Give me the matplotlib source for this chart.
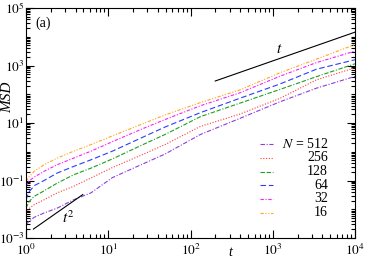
import numpy as np
import matplotlib
matplotlib.use("Agg")
import matplotlib.pyplot as plt
from matplotlib.ticker import FixedLocator, NullFormatter, FuncFormatter

plt.rcParams['font.family'] = ['Liberation Serif', 'DejaVu Serif']
plt.rcParams['mathtext.fontset'] = 'stix'

# log10(t) sample points
logt = [0.0, 0.036, 0.1, 0.22, 0.38, 0.58, 0.79, 1.05, 1.4, 1.69, 2.12, 2.60, 3.09, 3.53, 4.0]

# log10(MSD) for each system size
msd_512 = [-2.54, -2.42, -2.28, -2.13, -1.96, -1.67, -1.43, -0.9, -0.45, -0.08, 0.6, 1.16, 1.74, 2.21, 2.62]
msd_256 = [-2.13, -1.98, -1.84, -1.67, -1.43, -1.2, -0.91, -0.55, -0.12, 0.25, 0.88, 1.31, 1.86, 2.5, 2.92]
msd_128 = [-1.96, -1.74, -1.55, -1.36, -1.09, -0.80, -0.57, -0.25, 0.22, 0.6, 1.22, 1.69, 2.17, 2.61, 3.06]
msd_64 = [-1.67, -1.4, -1.18, -1.0, -0.74, -0.51, -0.28, 0.02, 0.48, 0.86, 1.36, 1.86, 2.36, 2.87, 3.2]
msd_32 = [-1.2, -1.02, -0.88, -0.68, -0.45, -0.22, 0.02, 0.35, 0.78, 1.12, 1.6, 2.05, 2.63, 3.10, 3.5]
msd_16 = [-1.03, -0.88, -0.68, -0.45, -0.22, 0.02, 0.25, 0.55, 0.95, 1.28, 1.71, 2.15, 2.75, 3.22, 3.73]

sizes = ["512", "256", "128", "64", "32", "16"]
series = [msd_512, msd_256, msd_128, msd_64, msd_32, msd_16]
colors = ["#8a3ee0", "#ff3a3a", "#1f9f1f", "#2a3cff", "#ff1aff", "#ffa820"]
dashes = [(4, 1.5, 1, 1.5), (1, 1.5), (4, 1.5, 4, 1.5, 1, 1.5), (5, 2.5),
          (3, 1.5, 1, 1.5), (3, 1.5, 1, 1.5, 1, 1.5)]

# guide lines: t^2 and t
t2_range = [1.23, 4.9]
t2_coef = 10 ** -2.87
t1_range = [200, 1e4]
t1_coef = 10 ** 0.16

fig = plt.figure(figsize=(3.66, 2.59), dpi=100)
ax = fig.add_axes([26 / 366, 1 - 238 / 259, 329 / 366, 230 / 259])

t = 10 ** np.array(logt)
handles = []
for lab, vals, col, ds in zip(sizes, series, colors, dashes):
    ln, = ax.plot(t, 10 ** np.array(vals), color=col, lw=0.8, dashes=ds)
    handles.append(ln)

tt = np.array(t2_range)
ax.plot(tt, t2_coef * tt ** 2, color='black', lw=0.8)
tt = np.array(t1_range)
ax.plot(tt, t1_coef * tt, color='black', lw=0.8)

ax.set_xscale('log')
ax.set_yscale('log')
ax.set_xlim(1, 1e4)
ax.set_ylim(1e-3, 1e5)

ax.xaxis.set_major_locator(FixedLocator([1, 10, 100, 1e3, 1e4]))
ax.xaxis.set_minor_locator(FixedLocator([k * 10 ** n for n in range(4) for k in range(2, 10)]))
ymaj = [1e-3, 1e-1, 1e1, 1e3, 1e5]
ax.yaxis.set_major_locator(FixedLocator(ymaj))
ax.yaxis.set_minor_locator(FixedLocator([k * 10.0 ** n for n in range(-3, 5) for k in range(1, 10)
                                         if not (k == 1 and 10.0 ** n in ymaj)]))
fmt = FuncFormatter(lambda v, p: r'$10^{%d}$' % int(round(np.log10(v))))
ax.xaxis.set_major_formatter(fmt)
ax.yaxis.set_major_formatter(fmt)
ax.xaxis.set_minor_formatter(NullFormatter())
ax.yaxis.set_minor_formatter(NullFormatter())
ax.tick_params(which='both', direction='in', top=True, right=True, labelsize=9.5, width=0.8)
ax.tick_params(which='major', length=6, pad=1)
ax.tick_params(which='minor', length=3)
ax.tick_params(axis='x', which='major', pad=3.5)
for s in ax.spines.values():
    s.set_linewidth(0.8)

fig.text(8 / 366, 1 - 97 / 259, 'MSD', rotation=90, style='italic', fontsize=11,
         ha='center', va='center')
fig.text(230 / 366, 1 - 252 / 259, 't', style='italic', fontsize=10, ha='center', va='center')
ax.text(9 / 329, 1 - 15 / 230, '(a)', transform=ax.transAxes,
        fontsize=10, ha='left', va='center')
ax.text(0.128, 0.09, r'$t^2$', transform=ax.transAxes, fontsize=11, ha='center', va='center')
ax.text(0.77, 0.82, r'$t$', transform=ax.transAxes, fontsize=11, ha='center', va='center')

# legend: handles from matplotlib, labels right-aligned next to them
labels = [r'$N$ = 512'] + sizes[1:]
leg = ax.legend(handles, [''] * len(handles), loc='upper left',
                bbox_to_anchor=((260 - 26) / 329, 1 - (139 - 8) / 230),
                frameon=False, fontsize=10, handlelength=0.95, handletextpad=0,
                labelspacing=0.05, borderpad=0, borderaxespad=0)
fig.canvas.draw()
r = fig.canvas.get_renderer()
inv = fig.transFigure.inverted()
for h, lab in zip(leg.legend_handles, labels):
    bb = h.get_window_extent(r)
    yc = (bb.y0 + bb.y1) / 2
    x, y = inv.transform((328, yc))
    fig.text(x, y, lab, fontsize=10, ha='right', va='center')

fig.savefig('out.png', dpi=100)
